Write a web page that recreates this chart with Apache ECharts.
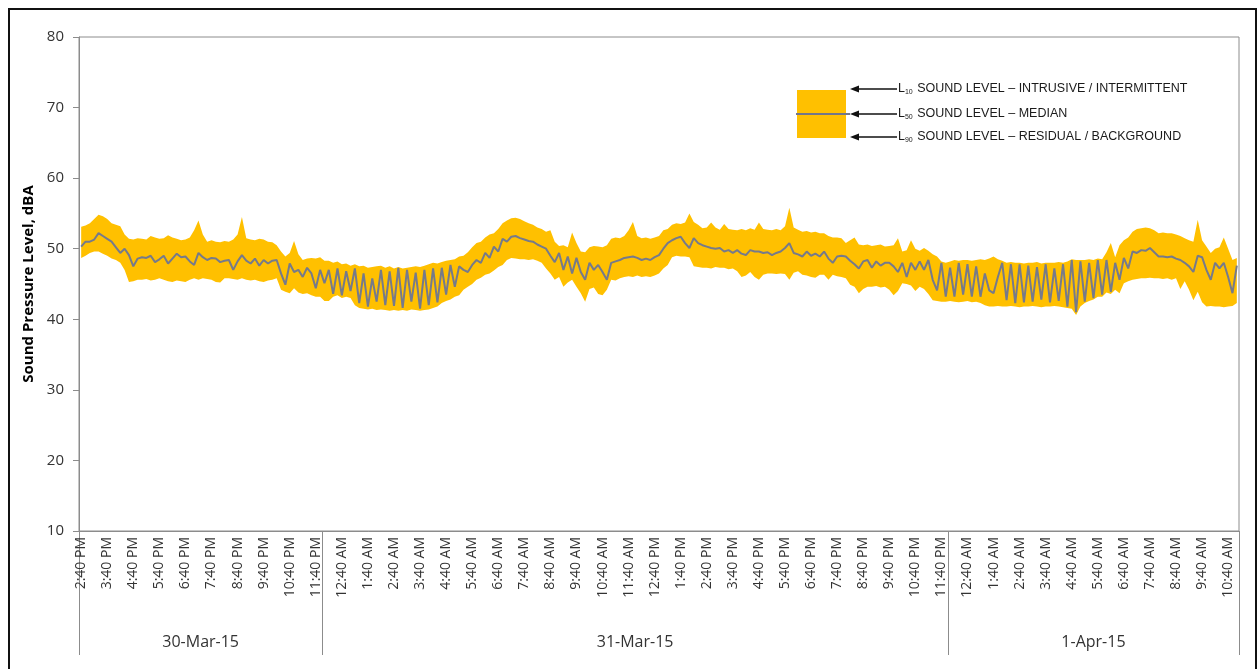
<!DOCTYPE html>
<html>
<head>
<meta charset="utf-8">
<script src="https://cdn.jsdelivr.net/npm/echarts@6/dist/echarts.min.js"></script>
<style>
  html, body { margin: 0; padding: 0; background: #fff; }
  #wrap { position: relative; width: 1259px; height: 669px; overflow: hidden; }
  #chart { position: absolute; left: 0; top: 0; width: 1259px; height: 669px; }
  #frame { position: absolute; left: 8px; top: 8px; width: 1245px; height: 700px; border: 2px solid #111; pointer-events: none; }
</style>
</head>
<body>
<div id="wrap"><div id="chart"></div><div id="frame"></div></div>
<script>
// ---- data (10-minute intervals, 30-Mar-15 2:40 PM to 1-Apr-15 11:00 AM) ----
const startLabel = { year: 2015, month: 3, day: 30, hour: 14, minute: 40 };
const stepMinutes = 10;

const L50 = [
  50.3, 51.0, 51.0, 51.3, 52.2, 51.8, 51.4, 51.0, 50.2, 49.4,
  50.0, 49.1, 47.5, 48.6, 48.8, 48.7, 49.0, 48.1, 48.5, 49.0,
  47.9, 48.6, 49.3, 48.8, 48.9, 48.2, 47.7, 49.4, 48.8, 48.4,
  48.7, 48.6, 48.1, 48.3, 48.4, 47.0, 48.2, 49.1, 48.3, 47.9,
  48.6, 47.6, 48.4, 47.9, 48.3, 48.4, 46.5, 44.9, 47.9, 46.7,
  47.0, 46.0, 47.3, 46.5, 44.4, 47.0, 45.1, 47.0, 43.6, 47.2,
  43.4, 46.8, 44.0, 47.2, 42.3, 46.5, 41.8, 45.8, 42.5, 47.0,
  42.0, 46.8, 41.9, 47.3, 41.6, 47.0, 42.5, 46.6, 41.5, 47.0,
  42.0, 47.2, 42.4, 47.3, 43.5, 47.7, 44.6, 47.5, 47.0, 46.7,
  47.7, 48.4, 48.0, 49.4, 48.7, 50.3, 49.6, 51.4, 51.0, 51.7,
  51.8, 51.5, 51.3, 51.1, 51.0, 50.6, 50.3, 50.0, 49.0, 48.1,
  49.4, 47.0, 48.9, 46.5, 48.7, 46.7, 45.6, 48.0, 47.0, 47.7,
  46.7, 45.6, 48.0, 48.2, 48.4, 48.7, 48.8, 48.9, 48.7, 48.4,
  48.6, 48.4, 48.8, 49.1, 50.0, 50.8, 51.2, 51.5, 51.7, 50.8,
  50.1, 51.5, 50.8, 50.5, 50.3, 50.1, 50.0, 50.1, 49.6, 49.8,
  49.4, 49.8, 49.3, 49.1, 49.8, 49.6, 49.6, 49.4, 49.5, 49.1,
  49.4, 49.6, 50.1, 50.8, 49.4, 49.2, 48.9, 49.6, 49.0, 49.3,
  48.9, 49.6, 48.6, 48.0, 48.9, 49.0, 48.9, 48.3, 47.8, 47.2,
  48.2, 48.4, 47.3, 48.2, 47.6, 48.0, 48.0, 47.5, 46.7, 48.0,
  46.0, 48.0, 47.0, 48.2, 47.0, 48.4, 45.6, 44.1, 48.0, 43.2,
  47.3, 43.2, 48.0, 43.5, 47.8, 43.2, 47.5, 43.2, 46.5, 44.1,
  43.7, 46.0, 48.0, 42.7, 47.8, 42.3, 47.8, 42.4, 47.6, 42.5,
  47.4, 42.8, 47.8, 42.4, 47.2, 42.6, 47.8, 41.8, 48.4, 41.0,
  48.2, 42.5, 48.0, 43.0, 48.4, 43.5, 48.4, 43.9, 48.0, 45.6,
  48.7, 47.2, 49.6, 49.4, 49.8, 49.7, 50.1, 49.5, 48.9, 48.9,
  48.8, 48.9, 48.6, 48.4, 48.0, 47.5, 46.7, 49.0, 48.8, 47.0,
  45.6, 48.0, 47.2, 48.0, 46.0, 43.7, 47.6
];

const L10 = [
  53.1, 53.3, 53.6, 54.2, 54.8, 54.6, 54.2, 53.6, 53.4, 53.2,
  52.0, 51.4, 51.3, 51.5, 51.4, 51.3, 51.8, 51.6, 51.4, 51.5,
  51.9, 51.6, 51.4, 51.2, 51.3, 51.6, 52.6, 54.0, 52.0, 51.0,
  51.2, 51.0, 50.9, 51.1, 51.0, 51.3, 52.0, 54.5, 51.5, 51.3,
  51.2, 51.4, 51.3, 51.0, 50.9, 50.5, 49.6, 48.9, 49.4, 51.1,
  49.2, 48.4, 48.6, 48.7, 48.6, 48.8, 48.3, 48.3, 48.0, 48.2,
  47.8, 47.9, 47.6, 47.8, 47.5, 47.6, 47.3, 47.4, 47.5, 47.6,
  47.3, 47.5, 47.2, 47.4, 47.2, 47.3, 47.4, 47.5, 47.4, 47.6,
  47.8, 48.0, 47.9, 48.1, 48.3, 48.4, 48.5, 48.9, 49.0, 49.5,
  50.2, 50.8, 51.0, 51.6, 52.0, 52.2, 52.8, 53.6, 54.0, 54.3,
  54.4, 54.2, 53.9, 53.6, 53.4, 53.0, 52.8, 52.4, 52.6, 51.0,
  50.4, 50.5, 50.2, 52.3, 50.8, 49.6, 49.5, 50.2, 50.4, 50.3,
  50.2, 50.5, 51.4, 51.6, 51.5, 51.8, 52.6, 53.8, 51.8, 51.5,
  51.6, 51.4, 51.6, 51.8, 52.6, 52.8, 53.4, 53.6, 53.5, 53.7,
  55.0, 53.8, 53.4, 52.9, 53.0, 53.7, 53.0, 52.7, 53.5, 52.8,
  52.7, 52.6, 52.8, 52.6, 52.9, 52.7, 53.7, 52.8, 52.7, 52.6,
  52.8, 52.6, 53.2, 55.8, 53.0, 52.7, 52.4, 52.5, 52.3, 52.4,
  52.2, 52.2, 51.8, 51.6, 51.6, 51.5, 50.8, 51.2, 51.6, 50.6,
  50.5, 50.6, 50.4, 50.5, 50.6, 50.3, 50.4, 50.5, 51.5, 49.6,
  49.8, 51.2, 50.0, 49.7, 50.1, 49.7, 49.2, 48.9, 48.2, 48.0,
  48.2, 48.4, 48.3, 48.4, 48.4, 48.3, 48.4, 48.5, 48.4, 48.6,
  48.9, 48.5, 48.3, 48.0, 48.1, 48.0, 48.0, 47.9, 48.0, 48.0,
  48.1, 47.9, 48.0, 48.0, 48.0, 48.1, 48.0, 48.2, 48.5, 48.4,
  48.4, 48.4, 48.5, 48.4, 48.6, 48.5, 49.5, 50.8, 48.8, 50.5,
  51.2, 51.6, 52.4, 52.8, 52.9, 53.0, 52.9, 52.6, 52.2, 52.3,
  52.2, 52.2, 52.0, 51.8, 51.5, 51.2, 51.0, 54.1, 51.2, 50.3,
  49.4, 50.0, 50.2, 51.6, 50.0, 48.4, 48.7
];

const L90 = [
  48.7, 49.0, 49.4, 49.6, 49.6, 49.3, 49.0, 48.6, 48.4, 48.0,
  47.0, 45.3, 45.4, 45.6, 45.6, 45.7, 45.5, 45.6, 45.8, 45.6,
  45.4, 45.3, 45.5, 45.4, 45.3, 45.6, 45.8, 45.6, 45.8, 45.7,
  45.6, 45.3, 45.2, 45.8, 45.8, 45.7, 45.6, 45.8, 45.6, 45.5,
  45.6, 45.4, 45.3, 45.5, 45.6, 45.8, 44.2, 43.9, 43.7, 44.4,
  43.8, 43.6, 43.7, 43.4, 43.2, 43.2, 42.6, 42.6, 43.2, 43.4,
  43.0, 43.2, 43.0, 42.0, 41.6, 41.5, 41.4, 41.5, 41.3, 41.4,
  41.3, 41.2, 41.3, 41.2, 41.3, 41.2, 41.4, 41.3, 41.2, 41.3,
  41.4, 41.6, 41.8, 42.3, 42.6, 42.8, 43.2, 43.4, 44.2, 44.6,
  45.0, 45.6, 45.9, 46.3, 46.5, 46.9, 47.4, 47.7, 48.4, 48.7,
  48.6, 48.5, 48.5, 48.4, 48.5, 48.3, 48.0, 47.2, 46.5, 45.6,
  46.0, 44.6, 45.2, 45.6, 44.6, 43.7, 42.5, 44.3, 44.5, 43.6,
  43.4, 44.2, 45.6, 45.5, 45.8, 46.0, 46.1, 46.0, 46.2, 46.0,
  46.1, 46.0, 46.2, 46.5, 47.2, 47.7, 48.8, 49.0, 48.9, 48.9,
  48.8, 47.5, 47.4, 47.3, 47.3, 47.2, 47.4, 47.3, 47.3, 47.1,
  47.2, 46.8, 46.0, 46.2, 46.7, 46.0, 45.6, 46.3, 46.5, 46.5,
  46.4, 46.5, 46.4, 45.6, 46.6, 46.8, 46.3, 46.2, 46.0, 45.9,
  46.3, 46.3, 45.6, 46.3, 46.1, 46.0, 45.8, 44.9, 44.6, 43.7,
  44.3, 44.6, 44.6, 44.7, 44.5, 44.6, 44.2, 43.4, 44.0, 45.1,
  45.0, 44.8, 44.0, 44.6, 44.3, 43.6, 42.7, 42.6, 42.5, 42.5,
  42.6, 42.5, 42.4, 42.5, 42.6, 42.4, 42.5, 42.3, 42.0, 41.8,
  41.8, 41.9, 41.8, 41.8, 41.9, 41.8, 41.7, 41.8, 41.8, 41.9,
  41.8, 41.7, 41.8, 41.8, 41.9, 41.8, 41.7, 41.6, 41.5, 40.6,
  41.8, 42.3, 42.6, 42.8, 43.2, 43.2, 43.8, 43.6, 44.2, 43.7,
  45.1, 45.4, 45.6, 45.7, 45.8, 45.8, 45.9, 45.8, 45.8, 45.7,
  45.8, 45.6, 45.8, 44.3, 45.4, 44.2, 42.7, 43.9, 42.4, 41.8,
  41.9, 41.8, 41.8, 41.7, 41.8, 41.9, 42.3
];

// date groups on the lower category level
const dateNames = ['30-Mar-15', '31-Mar-15', '1-Apr-15'];
const dateStartIndex = [0, 56, 200];

const yTicks = { min: 10, max: 80, interval: 10 };
const yTitle = 'Sound Pressure Level, dBA';
const legendLabels = [
  { sub: '10', text: ' SOUND LEVEL \u2013 INTRUSIVE / INTERMITTENT' },
  { sub: '50', text: ' SOUND LEVEL \u2013 MEDIAN' },
  { sub: '90', text: ' SOUND LEVEL \u2013 RESIDUAL / BACKGROUND' }
];

// ---- derived ----
const N = L50.length;
function fmtTime(totalMin) {
  const m = ((totalMin % 1440) + 1440) % 1440;
  let h = Math.floor(m / 60);
  const mm = m % 60;
  const ap = h >= 12 ? 'PM' : 'AM';
  h = h % 12; if (h === 0) h = 12;
  return h + ':' + (mm < 10 ? '0' : '') + mm + ' ' + ap;
}
const startMin = startLabel.hour * 60 + startLabel.minute;
const times = [];
for (let i = 0; i < N; i++) times.push(fmtTime(startMin + i * stepMinutes));

const bandDiff = L10.map((v, i) => +(v - L90[i]).toFixed(2));
const dateBounds = dateStartIndex.concat([N]);
const dateMids = dateStartIndex.map((s, k) => (s + dateBounds[k + 1]) / 2);

const axisGray = '#8c8c8c';
const labelColor = '#333333';

const chart = echarts.init(document.getElementById('chart'), null, { renderer: 'canvas' });

const lx = 797, ly = 90;
const arrowYs = [89, 114, 137];
const graphics = [
  { type: 'rect', shape: { x: lx, y: ly, width: 49, height: 48 }, style: { fill: '#FFC000' }, z: 100 },
  { type: 'line', shape: { x1: lx - 1, y1: 114, x2: lx + 53, y2: 114 }, style: { stroke: '#72768a', lineWidth: 2 }, z: 101 }
];
arrowYs.forEach((ay, k) => {
  graphics.push({ type: 'line', shape: { x1: 897, y1: ay, x2: 856, y2: ay }, style: { stroke: '#111', lineWidth: 1.6 }, z: 101 });
  graphics.push({ type: 'polygon', shape: { points: [[850, ay], [859, ay - 3.5], [859, ay + 3.5]] }, style: { fill: '#111' }, z: 101 });
  graphics.push({
    type: 'text', x: 898, y: ay, z: 101,
    style: {
      text: '{l|L}{s|' + legendLabels[k].sub + '}{l|' + legendLabels[k].text + '}',
      verticalAlign: 'middle',
      rich: {
        l: { fontFamily: 'Liberation Sans', fontSize: 12.5, fill: '#1a1a1a' },
        s: { fontFamily: 'Liberation Sans', fontSize: 7, fill: '#1a1a1a', verticalAlign: 'bottom', padding: [6, 1, 0, 0] }
      }
    }
  });
});

const option = {
  animation: false,
  backgroundColor: '#ffffff',
  grid: { left: 79, top: 37, right: 20, bottom: 138, show: true, borderColor: axisGray, borderWidth: 1, backgroundColor: 'transparent' },
  xAxis: [
    {
      type: 'category', data: times, boundaryGap: true,
      axisLine: { show: true, lineStyle: { color: axisGray, width: 1 } },
      axisTick: { show: false },
      splitLine: { show: false },
      axisLabel: { interval: 5, rotate: 90, margin: 6, fontFamily: 'Open Sans', fontSize: 14, color: labelColor }
    },
    {
      type: 'value', min: 0, max: N, position: 'bottom',
      axisLine: { show: false },
      splitLine: { show: false },
      axisTick: { show: true, customValues: dateBounds, length: 124, lineStyle: { color: axisGray, width: 1 } },
      axisLabel: {
        customValues: dateMids, margin: 103, fontFamily: 'Open Sans', fontSize: 16, color: labelColor,
        formatter: function (v) { const k = dateMids.indexOf(v); return k >= 0 ? dateNames[k] : ''; }
      }
    }
  ],
  yAxis: {
    type: 'value', min: yTicks.min, max: yTicks.max, interval: yTicks.interval,
    name: yTitle, nameLocation: 'middle', nameGap: 42,
    nameTextStyle: { fontFamily: 'Open Sans', fontWeight: 'bold', fontSize: 15, color: '#000' },
    axisLine: { show: true, lineStyle: { color: axisGray, width: 1 } },
    axisTick: { show: true, length: 6, lineStyle: { color: axisGray } },
    splitLine: { show: false },
    axisLabel: { margin: 15, fontFamily: 'Open Sans', fontSize: 15, color: labelColor }
  },
  series: [
    {
      name: 'L90', type: 'line', stack: 'band', data: L90, symbol: 'none',
      lineStyle: { width: 0, opacity: 0 }, silent: true, z: 2
    },
    {
      name: 'L10', type: 'line', stack: 'band', data: bandDiff, symbol: 'none',
      lineStyle: { width: 0, opacity: 0 }, areaStyle: { color: '#FFC000', opacity: 1 }, silent: true, z: 2
    },
    {
      name: 'L50', type: 'line', data: L50, symbol: 'none',
      lineStyle: { width: 2, color: '#767a8a' }, z: 5
    }
  ],
  graphic: graphics
};
chart.setOption(option);
</script>
</body>
</html>
